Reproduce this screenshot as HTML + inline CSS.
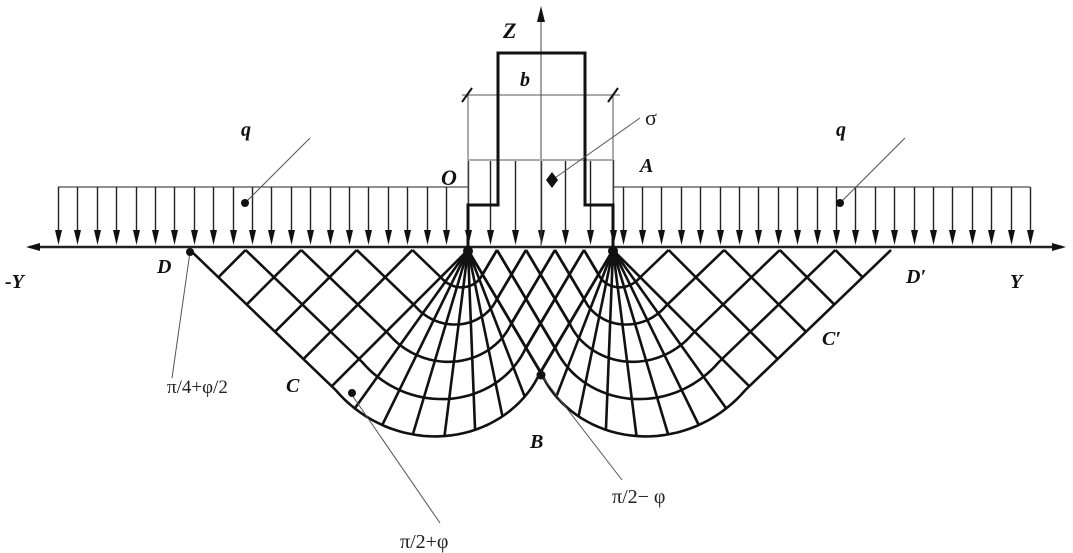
<!DOCTYPE html>
<html><head><meta charset="utf-8"><style>
html,body{margin:0;padding:0;background:#fff;}
svg{display:block;}
text{font-family:"Liberation Serif",serif;font-weight:bold;font-style:italic;fill:#111;}
.g{font-family:"Liberation Serif",serif;font-style:normal;font-weight:normal;fill:#222;}
</style></head><body>
<svg id="s" width="1073" height="553" viewBox="0 0 1073 553" xmlns="http://www.w3.org/2000/svg">
<g id="grid" stroke="#111" stroke-width="2.6" fill="none" stroke-linejoin="round"></g>
<g id="load" stroke="#222" stroke-width="1.4"></g>
<line x1="30" y1="247" x2="1062" y2="247" stroke="#222" stroke-width="2.6"/>
<polygon points="26,247 40,243 40,251" fill="#111"/>
<polygon points="1066,247 1052,243 1052,251" fill="#111"/>
<line x1="541" y1="247" x2="541" y2="12" stroke="#444" stroke-width="1"/>
<polygon points="541,6 537,22 545,22" fill="#111"/>
<g stroke="#555" stroke-width="1" fill="none">
<line x1="468" y1="95" x2="468" y2="247"/><line x1="613" y1="95" x2="613" y2="247"/>
<line x1="462" y1="95" x2="620" y2="95"/>
<line x1="468" y1="160" x2="613" y2="160" stroke="#aaa" stroke-width="2"/>
<line x1="462" y1="102" x2="472" y2="88" stroke="#111" stroke-width="2"/>
<line x1="608" y1="102" x2="618" y2="88" stroke="#111" stroke-width="2"/>
</g>
<polyline points="468,247 468,205 498,205 498,53 585,53 585,205 613,205 613,247" fill="none" stroke="#111" stroke-width="3"/>
<g stroke="#555" stroke-width="1" fill="none">
<line x1="245" y1="203" x2="310" y2="138"/>
<line x1="840" y1="203" x2="905" y2="138"/>
<line x1="552" y1="180" x2="640" y2="118"/>
<line x1="190" y1="252" x2="172" y2="378"/>
<line x1="352" y1="395" x2="440" y2="523"/>
<line x1="541" y1="375" x2="622" y2="480"/>
</g>
<g fill="#111">
<circle cx="245" cy="203" r="4"/><circle cx="840" cy="203" r="4"/>
<polygon points="552,172 558,180 552,188 546,180"/>
<circle cx="190" cy="252" r="4"/><circle cx="352" cy="393" r="4"/><circle cx="541" cy="375" r="4.5"/>
<circle cx="468" cy="251" r="5"/><circle cx="613" cy="251" r="5"/>
</g>
<text x="503" y="38" font-size="22">Z</text>
<text x="520" y="86" font-size="20">b</text>
<text x="645" y="125" font-size="22" class="g">σ</text>
<text x="441" y="185" font-size="22">O</text>
<text x="640" y="172" font-size="20">A</text>
<text x="241" y="136" font-size="20">q</text>
<text x="836" y="136" font-size="20">q</text>
<text x="5" y="288" font-size="20">-Y</text>
<text x="157" y="273" font-size="20">D</text>
<text x="906" y="283" font-size="20">D′</text>
<text x="1010" y="288" font-size="20">Y</text>
<text x="286" y="392" font-size="20">C</text>
<text x="822" y="345" font-size="20">C′</text>
<text x="530" y="448" font-size="20">B</text>
<text x="167" y="393" font-size="19" class="g">π/4+φ/2</text>
<text x="400" y="548" font-size="20" class="g">π/2+φ</text>
<text x="612" y="503" font-size="20" class="g">π/2− φ</text>
</svg>
<script>
(function(){
var NS="http://www.w3.org/2000/svg";
var grid=document.getElementById('grid'),load=document.getElementById('load');
function el(p,t,a){var e=document.createElementNS(NS,t);for(var k in a)e.setAttribute(k,a[k]);p.appendChild(e);return e;}
var xs=[];
for(var x=58;x<=462;x+=19.4)xs.push([x,187]);
for(var x=1030;x>=618;x-=19.4)xs.push([x,187]);
[490,515,565,590].forEach(function(x){xs.push([x,160]);});
[468,541,613].forEach(function(x){xs.push([x,160]);});
xs.forEach(function(p){var x=Math.round(p[0])+0.5;
 el(load,'line',{x1:x,y1:p[1],x2:x,y2:232});
 el(load,'polygon',{points:(x-3.5)+',230 '+(x+3.5)+',230 '+x+',245',fill:'#111',stroke:'none'});});
el(load,'line',{x1:58,y1:187,x2:468,y2:187,'stroke-width':1});
el(load,'line',{x1:613,y1:187,x2:1030,y2:187,'stroke-width':1});
var T=[59.4,90,135],R=[142,182,192];
function r(t){var s=0;for(var i=0;i<3;i++){var p=R[i];for(var j=0;j<3;j++)if(j!=i)p*=(t-T[j])/(T[i]-T[j]);s+=p;}return s;}
function mech(sign){
 var mir=function(x){return sign>0?x:1081-x;};
 function pt(t,s){var a=t*Math.PI/180;return [468+s*r(t)*Math.cos(a),250+s*r(t)*Math.sin(a)];}
 function P(p){return mir(p[0]).toFixed(1)+','+p[1].toFixed(1);}
 var Dp=[190,250];
 [0.2,0.4,0.6,0.8,1].forEach(function(s){
  var pts=[];
  pts.push([468+s*(613-468),250]);
  for(var t=59.4;t<=135.01;t+=2)pts.push(pt(t,s));
  var C=pt(135,s);
  var dx=Dp[0]-pt(135,1)[0],dy=Dp[1]-pt(135,1)[1];
  var k=(250-C[1])/dy;pts.push([C[0]+k*dx,250]);
  el(grid,'polyline',{points:pts.map(P).join(' ')});
 });
 for(var i=0;i<=8;i++){var t=59.4+i*(135-59.4)/8;var e=pt(t,1);
  el(grid,'line',{x1:mir(468),y1:250,x2:mir(e[0]),y2:e[1]});}
 var C1=pt(135,1);
 [0.2,0.4,0.6,0.8].forEach(function(f){var x0=Dp[0]+f*(C1[0]-Dp[0]),y0=Dp[1]+f*(C1[1]-Dp[1]);
  var dx=468-C1[0],dy=250-C1[1],k=(250-y0)/dy;
  el(grid,'line',{x1:mir(x0),y1:y0,x2:mir(x0+k*dx),y2:250});});
 var B1=pt(59.4,1);
 [0.2,0.4,0.6,0.8].forEach(function(f){var x0=B1[0]+f*(613-B1[0]),y0=B1[1]+f*(250-B1[1]);
  var dx=468-B1[0],dy=250-B1[1],k=(250-y0)/dy;
  el(grid,'line',{x1:mir(x0),y1:y0,x2:mir(x0+k*dx),y2:250});});
}
mech(1);mech(-1);
})();
</script>
</body></html>
